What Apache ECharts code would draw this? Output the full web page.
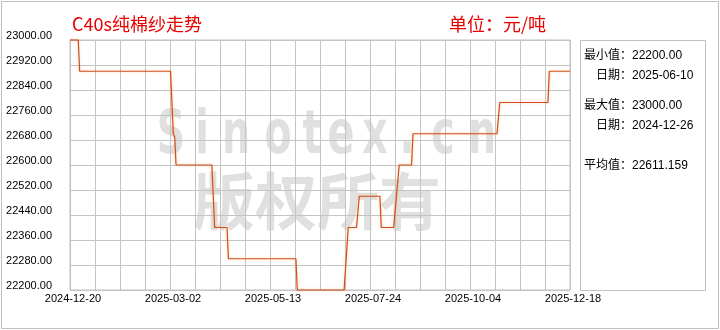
<!DOCTYPE html>
<html><head><meta charset="utf-8">
<script src="https://cdn.jsdelivr.net/npm/echarts@6/dist/echarts.min.js"></script>
<style>html,body{margin:0;padding:0;background:#fff}#c{width:720px;height:330px}</style>
</head><body><div id="c"></div>
<script>
// ---- data ----
const chartTitle = 'C40s纯棉纱走势';
const unitText = '单位：元/吨';
const priceDates = ['2024-12-20','2024-12-26','2024-12-27','2025-03-03','2025-03-05','2025-03-06','2025-03-07',
  '2025-04-02','2025-04-04','2025-04-13','2025-04-14','2025-06-02','2025-06-03','2025-07-07','2025-07-10',
  '2025-07-16','2025-07-18','2025-08-02','2025-08-03','2025-08-12','2025-08-14','2025-08-16','2025-08-25',
  '2025-08-26','2025-10-26','2025-10-28','2025-12-02','2025-12-03','2025-12-18'];
const priceValues = [23000,23000,22900,22900,22700,22690,22600,
  22600,22400,22400,22300,22300,22200,22200,22400,
  22400,22500,22500,22400,22400,22500,22600,22600,
  22700,22700,22800,22800,22900,22900];
const xTickLabels = ['2024-12-20','2025-03-02','2025-05-13','2025-07-24','2025-10-04','2025-12-18'];
const yTickMin = 22200, yTickMax = 23000, yTickStep = 80;
const statLines = ['最小值：22200.00','日期：2025-06-10','最大值：23000.00','日期：2024-12-26','平均值：22611.159'];
const watermarkLatin = 'Sinotex.cn';
const watermarkCJK = '版权所有';

// ---- helpers ----
function dayNo(s){const p=s.split('-').map(Number);return Date.UTC(p[0],p[1]-1,p[2])/864e5;}
const day0 = dayNo(xTickLabels[0]);
const span = dayNo(xTickLabels[xTickLabels.length-1]) - day0;
const xStep = span/20;
const seriesData = priceDates.map((d,i)=>[dayNo(d)-day0, priceValues[i]]);

const latinCenters = [171,202,236,278,312,341,375,407,443,482];
const statPos = [[584,56],[596,76],[584,106],[596,126],[584,166]];
const graphic = [
  {type:'rect', shape:{x:1.5,y:1.5,width:717,height:327}, style:{fill:'none',stroke:'#c0c0c0',lineWidth:1}, silent:true},
  {type:'rect', shape:{x:580.5,y:40.5,width:125,height:250}, style:{fill:'none',stroke:'#c0c0c0',lineWidth:1}, silent:true},
  {type:'text', x:72, y:24, style:{text:chartTitle, font:'18px "Noto Sans CJK SC"', fill:'#e60000', align:'left', verticalAlign:'middle'}},
  {type:'text', x:449, y:24, style:{text:unitText, font:'18px "Noto Sans CJK SC"', fill:'#e60000', align:'left', verticalAlign:'middle'}},
  {type:'text', x:317, y:201, z:-1, style:{text:watermarkCJK, font:'bold 62px "Noto Sans CJK SC"', fill:'#e0e0e0', align:'center', verticalAlign:'middle'}}
];
watermarkLatin.split('').forEach((ch,i)=>{
  graphic.push({type:'text', x:latinCenters[i], y:137, scaleX:0.66, z:-1,
    style:{text:ch, font:'bold 60px "DejaVu Sans"', fill:'#e0e0e0', align:'center', verticalAlign:'middle'}});
});
statLines.forEach((t,i)=>{
  graphic.push({type:'text', x:statPos[i][0], y:statPos[i][1],
    style:{text:t, font:'12px "Liberation Sans", "Noto Sans CJK SC"', fill:'#000', align:'left', verticalAlign:'middle'}});
});

const chart = echarts.init(document.getElementById('c'), null, {renderer:'canvas'});
chart.setOption({
  animation:false,
  backgroundColor:'#fff',
  grid:{left:70, top:40, width:500, height:250, show:true, borderColor:'#c0c0c0', borderWidth:1},
  xAxis:{type:'value', min:0, max:span, interval:xStep,
    axisLine:{show:false}, axisTick:{show:false},
    splitLine:{show:true, lineStyle:{color:'#c4c4c4', width:1}},
    axisLabel:{margin:3, color:'#000', fontSize:11, fontFamily:'Liberation Sans', padding:[0,0,0,6],
      showMinLabel:true, showMaxLabel:true,
      formatter:(v)=>{const k=Math.round(v/xStep);return k%4===0?xTickLabels[k/4]:'';}}},
  yAxis:{type:'value', min:yTickMin, max:yTickMax, interval:yTickStep,
    axisLine:{show:true, lineStyle:{color:'#c0c0c0'}}, axisTick:{show:false},
    splitLine:{show:true, lineStyle:{color:'#c4c4c4', width:1}},
    axisLabel:{margin:18, color:'#000', fontSize:11, fontFamily:'Liberation Sans', verticalAlign:'bottom', lineHeight:8,
      formatter:(v)=>v.toFixed(2)}},
  series:[{type:'line', data:seriesData, showSymbol:false, clip:false,
    lineStyle:{color:'#cc4e1e', width:1.2, shadowColor:'rgba(255,170,100,0.6)', shadowBlur:3},
    itemStyle:{color:'#cc4e1e'}}],
  graphic:graphic
});
</script></body></html>
